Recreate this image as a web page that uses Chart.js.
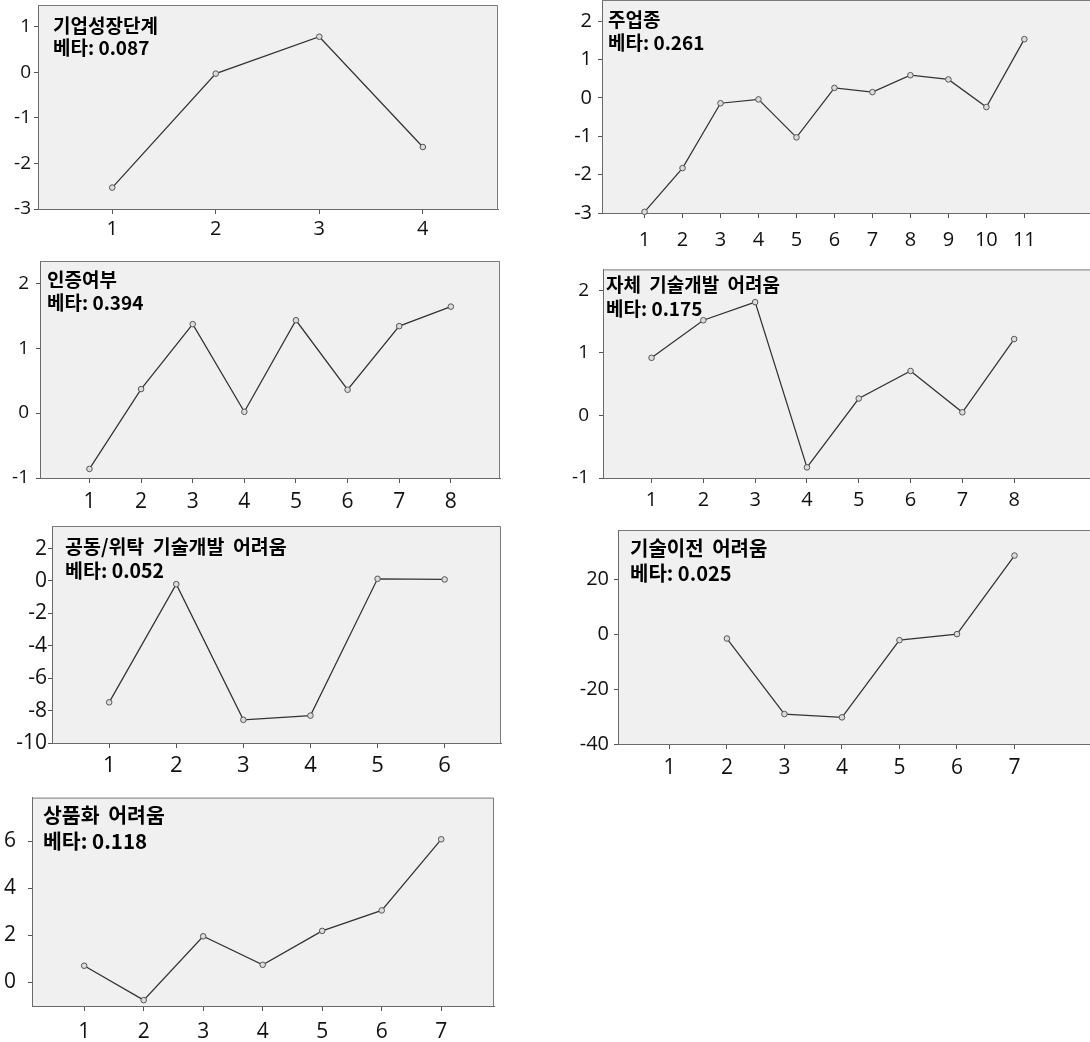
<!DOCTYPE html>
<html>
<head>
<meta charset="utf-8">
<script src="https://cdn.jsdelivr.net/npm/chart.js@4/dist/chart.umd.min.js"></script>
<style>
  html, body { margin: 0; padding: 0; background: #ffffff; overflow: hidden; width: 1090px; height: 1042px; }
  canvas { position: absolute; }
</style>
</head>
<body>
<script>
// Panel headings and their beta coefficients
const names = ['기업성장단계', '주업종', '인증여부', '자체 기술개발 어려움', '공동/위탁 기술개발 어려움', '기술이전 어려움', '상품화 어려움'];
const betas = ['0.087', '0.261', '0.394', '0.175', '0.052', '0.025', '0.118'];

// Category codes on each panel's x axis
const cats1 = [1, 2, 3, 4];
const cats2 = [1, 2, 3, 4, 5, 6, 7, 8, 9, 10, 11];
const cats3 = [1, 2, 3, 4, 5, 6, 7, 8];
const cats4 = [1, 2, 3, 4, 5, 6, 7, 8];
const cats5 = [1, 2, 3, 4, 5, 6];
const cats6 = [1, 2, 3, 4, 5, 6, 7];
const cats7 = [1, 2, 3, 4, 5, 6, 7];

// Effect values per category (null = no estimate)
const vals1 = [-2.53, -0.03, 0.78, -1.64];
const vals2 = [-2.97, -1.83, -0.14, -0.04, -1.03, 0.26, 0.15, 0.59, 0.48, -0.24, 1.53];
const vals3 = [-0.86, 0.37, 1.37, 0.02, 1.43, 0.36, 1.34, 1.64];
const vals4 = [0.92, 1.52, 1.81, -0.83, 0.27, 0.71, 0.05, 1.22];
const vals5 = [-7.49, -0.2, -8.57, -8.31, 0.13, 0.09];
const vals6 = [null, -1.6, -29.1, -30.3, -2.2, 0.0, 28.6];
const vals7 = [0.71, -0.75, 1.96, 0.75, 2.19, 3.06, 6.08];

// Y axis tick labels
const yTicks1 = [-3, -2, -1, 0, 1];
const yTicks2 = [-3, -2, -1, 0, 1, 2];
const yTicks3 = [-1, 0, 1, 2];
const yTicks4 = [-1, 0, 1, 2];
const yTicks5 = [-10, -8, -6, -4, -2, 0, 2];
const yTicks6 = [-40, -20, 0, 20];
const yTicks7 = [0, 2, 4, 6];

// Page layout of each panel: canvas left edge, plot box [l, t, r, b], axis extents,
// heading [dx, dy, line gap, size], tick font sizes and gaps, open right side
const frames = [
  { cl: 0,   box: [38, 5, 503, 209],     x: [0.283, 4.726], y: [-3, 1.476],  head: [15, 21, 22, 19],     xSize: 20, ySize: 19, xPad: 3,    yPad: 3,  open: false },
  { cl: 545, box: [602, 0, 1100, 213],   x: [-0.12, 12.86], y: [-3, 2.55],   head: [6, 20, 23, 19],      xSize: 20, ySize: 20, xPad: 10.5, yPad: 6,  open: true },
  { cl: 0,   box: [40, 261, 505, 478],   x: [0.042, 8.952], y: [-1, 2.343],  head: [7, 19, 23, 19],      xSize: 21, ySize: 19, xPad: 6,    yPad: 7,  open: false },
  { cl: 545, box: [603, 268, 1100, 478], x: [0.063, 9.56],  y: [-1, 2.333],  head: [3, 15, 24, 19],      xSize: 20, ySize: 19, xPad: 5,    yPad: 10, open: true },
  { cl: 0,   box: [52, 526, 506, 743],   x: [0.148, 6.84],  y: [-10, 3.39],  head: [13, 21, 24, 19.5],   xSize: 22, ySize: 21, xPad: 4.5,  yPad: 1,  open: false },
  { cl: 545, box: [618, 530, 1100, 744], x: [0.106, 8.40],  y: [-40, 37.9],  head: [12, 18, 25, 20],     xSize: 21, ySize: 20, xPad: 6.5,  yPad: 5,  open: true },
  { cl: 0,   box: [32, 793, 499, 1006],  x: [0.123, 7.887], y: [-1.0, 7.85], head: [11, 18, 25.5, 20.5], xSize: 21, ySize: 21, xPad: 8.5,  yPad: 12, open: false }
];

const panels = [
  [cats1, vals1, yTicks1], [cats2, vals2, yTicks2], [cats3, vals3, yTicks3],
  [cats4, vals4, yTicks4], [cats5, vals5, yTicks5], [cats6, vals6, yTicks6],
  [cats7, vals7, yTicks7]
];

const TICK_FAMILY = '"Open Sans", "Noto Sans", sans-serif';
const HEAD_FAMILY = '"Noto Sans CJK KR", "Noto Sans", sans-serif';

// Grey plot box, top/right frame lines and the two-line heading
const framePlugin = {
  id: 'panelFrame',
  beforeDraw(chart) {
    const a = chart.chartArea, ctx = chart.ctx;
    ctx.save();
    ctx.fillStyle = '#f0f0f0';
    ctx.fillRect(a.left, a.top, a.right - a.left, a.bottom - a.top);
    ctx.restore();
  },
  afterDraw(chart, args, opts) {
    const a = chart.chartArea, ctx = chart.ctx;
    ctx.save();
    ctx.strokeStyle = '#7a7a7a';
    ctx.lineWidth = 1;
    ctx.beginPath();
    ctx.moveTo(a.left, a.top + 0.5);
    ctx.lineTo(a.right - 0.5, a.top + 0.5);
    if (!opts.open) ctx.lineTo(a.right - 0.5, a.bottom);
    ctx.stroke();
    ctx.fillStyle = '#000000';
    ctx.font = 'bold ' + opts.size + 'px ' + HEAD_FAMILY;
    ctx.textBaseline = 'middle';
    ctx.textAlign = 'left';
    ctx.wordSpacing = '4px';
    ctx.fillText(opts.name, a.left + opts.dx, a.top + opts.dy);
    ctx.wordSpacing = '0px';
    ctx.fillText('베타: ' + opts.beta, a.left + opts.dx, a.top + opts.dy + opts.gap);
    ctx.restore();
  }
};

const PAD_TOP = 20, X_AXIS_H = 46;

panels.forEach(([cats, vals, yTicks], i) => {
  const fr = frames[i];
  const [L, T, R, B] = fr.box;
  const left = fr.cl, top = T - PAD_TOP;
  const canvas = document.createElement('canvas');
  canvas.width = R - left;
  canvas.height = B + X_AXIS_H - top;
  canvas.style.left = left + 'px';
  canvas.style.top = top + 'px';
  document.body.appendChild(canvas);

  new Chart(canvas, {
    type: 'line',
    data: {
      datasets: [{
        data: cats.map((c, k) => ({ x: c, y: vals[k] })),
        borderColor: '#333333',
        borderWidth: 1.25,
        pointRadius: 2.8,
        pointBackgroundColor: '#dcdcdc',
        pointBorderColor: '#555555',
        pointBorderWidth: 1,
        tension: 0,
        spanGaps: false,
        clip: false
      }]
    },
    options: {
      responsive: false,
      animation: false,
      events: [],
      layout: { padding: { top: PAD_TOP, left: 0, right: 0, bottom: 0 } },
      plugins: {
        legend: { display: false },
        tooltip: { enabled: false },
        panelFrame: { name: names[i], beta: betas[i], dx: fr.head[0], dy: fr.head[1], gap: fr.head[2], size: fr.head[3], open: fr.open }
      },
      scales: {
        x: {
          type: 'linear',
          min: fr.x[0], max: fr.x[1],
          afterBuildTicks: s => { s.ticks = cats.map(v => ({ value: v })); },
          afterFit: s => { s.height = X_AXIS_H; },
          ticks: { autoSkip: false, maxRotation: 0, padding: fr.xPad, color: '#111111',
                   font: { family: TICK_FAMILY, size: fr.xSize },
                   callback: v => String(v) },
          grid: { drawOnChartArea: false, drawTicks: true, tickLength: 5, color: '#555555' },
          border: { display: true, color: '#6a6a6a', width: 1 }
        },
        y: {
          type: 'linear',
          min: fr.y[0], max: fr.y[1],
          afterBuildTicks: s => { s.ticks = yTicks.map(v => ({ value: v })); },
          afterFit: s => { s.width = L - left; },
          ticks: { autoSkip: false, padding: fr.yPad, color: '#111111',
                   font: { family: TICK_FAMILY, size: fr.ySize },
                   callback: v => String(v) },
          grid: { drawOnChartArea: false, drawTicks: true, tickLength: 4, color: '#555555' },
          border: { display: true, color: '#6a6a6a', width: 1 }
        }
      }
    },
    plugins: [framePlugin]
  });
});
</script>
</body>
</html>
